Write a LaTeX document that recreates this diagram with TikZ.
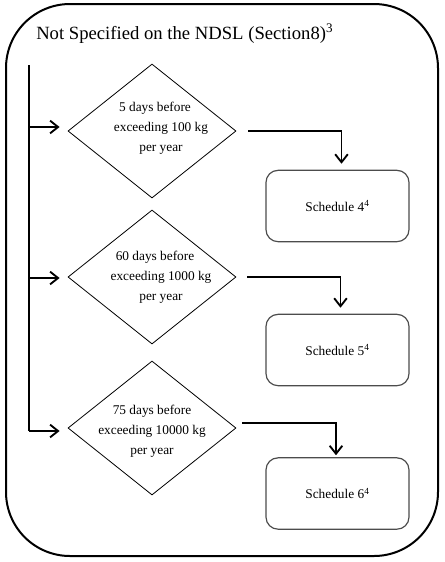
\documentclass[tikz,border=0pt]{standalone}
\usepackage{fontspec}
\setmainfont{Liberation Serif}
\usetikzlibrary{shapes.geometric,arrows.meta,calc}
\begin{document}
\begin{tikzpicture}[x=0.75pt,y=-0.75pt,
  outerbox/.style={draw=black,line width=1.5pt,rounded corners=48pt},
  decision/.style={draw=black,line width=0.6pt,diamond,minimum width=126pt,minimum height=100.5pt,inner sep=0pt},
  dtext/.style={align=center,font=\fontsize{10}{15}\selectfont,inner sep=0pt},
  sched/.style={draw=black!70,line width=0.9pt,rounded corners=9pt,minimum width=107.25pt,minimum height=53.5pt,inner sep=0pt,font=\fontsize{10}{12}\selectfont},
  conn/.style={line width=1.4pt,-{Straight Barb[length=6pt,width=9.5pt,line width=1.4pt]}},
  trunk/.style={line width=1.4pt}]
\useasboundingbox (0,0) rectangle (444,562);
\draw[outerbox] (6,4) rectangle (438,556);
\node[anchor=base west,inner sep=0pt,font=\fontsize{14}{16}\selectfont] (title) at (36,39) {Not Specified on the NDSL (Section8)\textsuperscript{3}};

\node[decision] (d1) at (152,131) {};
\node[decision] (d2) at (152,277) {};
\node[decision] (d3) at (152,428) {};
\node[dtext] (t1) at (161,128) {5 days before\hspace*{9pt}\\exceeding 100 kg\\per year};
\node[dtext] (t2) at (161,277) {60 days before\hspace*{9pt}\\exceeding 1000 kg\\per year};
\node[dtext] (t3) at (152,431) {75 days before\\exceeding 10000 kg\\per year};

\node[sched] (b1) at (337.5,206) {Schedule 4\textsuperscript{4}};
\node[sched] (b2) at (337.5,350) {Schedule 5\textsuperscript{4}};
\node[sched] (b3) at (337.5,493.5) {Schedule 6\textsuperscript{4}};

\coordinate (top) at (29,65);
\coordinate (j1) at (29,127);
\coordinate (j2) at (29,278);
\coordinate (j3) at (29,431);
\draw[trunk] (top) -- (j3);
\draw[conn,shorten >=6pt] (j1) -- (j1 -| d1.west);
\draw[conn,shorten >=6pt] (j2) -- (j2 -| d2.west);
\draw[conn,shorten >=6pt] (j3) -- (j3 -| d3.west);

\draw[conn,shorten <=9pt,shorten >=4.5pt] (d1.east) -| ($(b1.north)+(4,0)$);
\draw[conn,shorten <=8pt,shorten >=4.5pt] (d2.east) -| ($(b2.north)+(3,0)$);
\draw[conn,shorten <=4.5pt,shorten >=1.5pt] ($(d3.east)+(0,-5)$) -| ($(b3.north)+(-1.5,0)$);
\end{tikzpicture}
\end{document}
